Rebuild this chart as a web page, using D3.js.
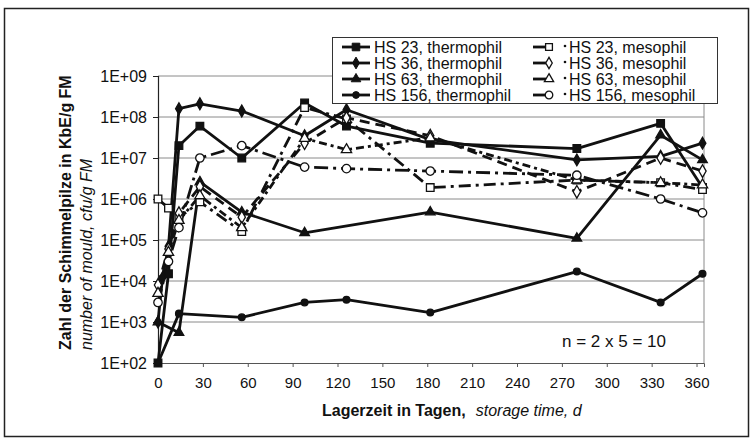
<!DOCTYPE html>
<html><head><meta charset="utf-8">
<script src="https://cdn.jsdelivr.net/npm/d3@7"></script>
<style>body{margin:0;background:#fff}svg{display:block}text{font-family:"Liberation Sans",Arial,sans-serif;fill:#111}</style>
</head><body><svg id="c" width="752" height="439"></svg>
<script>
// ---- data ----
const xTicks = [0,30,60,90,120,150,180,210,240,270,300,330,360];
const yTicks = [1e2,1e3,1e4,1e5,1e6,1e7,1e8,1e9];
const yTickLabels = ["1E+02","1E+03","1E+04","1E+05","1E+06","1E+07","1E+08","1E+09"];

const hs23tDays = [0,7,14,28,56,98,126,182,280,336,364];
const hs23tVals = [1e2,1.5e4,2e7,6e7,1e7,2.2e8,6e7,2.3e7,1.7e7,7e7,1.9e6];
const hs36tDays = [0,3,7,14,28,56,98,126,182,280,336,364];
const hs36tVals = [1e3,1.2e4,7e4,1.6e8,2.1e8,1.4e8,3.5e7,1.5e8,2.8e7,9e6,1.1e7,2.3e7];
const hs63tDays = [0,14,28,56,98,182,280,336,364];
const hs63tVals = [1e3,5.5e2,2.6e6,4.8e5,1.5e5,4.8e5,1.1e5,3.6e7,9e6];
const hs156tDays = [0,14,56,98,126,182,280,336,364];
const hs156tVals = [1e2,1.6e3,1.3e3,3e3,3.5e3,1.7e3,1.7e4,3e3,1.5e4];

const hs23mDays = [0,7,14,28,56,98,126,182,280,336,364];
const hs23mVals = [1e6,6e5,3.5e5,8.5e5,1.6e5,1.7e8,9e7,1.9e6,2.9e6,2.5e6,1.7e6];
const hs36mDays = [0,7,14,28,56,98,126,182,280,336,364];
const hs36mVals = [8e3,6e4,4.5e5,2e6,3.6e5,2.3e7,9.5e7,3.5e7,1.5e6,1e7,4.8e6];
const hs63mDays = [0,7,14,28,56,98,126,182,280,336,364];
const hs63mVals = [5e3,5e4,3e5,1.2e6,2e5,3e7,1.6e7,3.1e7,2.9e6,2.5e6,2.2e6];
const hs156mDays = [0,7,14,28,56,98,126,182,280,336,364];
const hs156mVals = [3e3,3e4,2e5,1e7,2e7,6e6,5.5e6,4.8e6,3.8e6,1e6,4.6e5];

const seriesNames = ["HS 23, thermophil","HS 36, thermophil","HS 63, thermophil","HS 156, thermophil",
                     "HS 23, mesophil","HS 36, mesophil","HS 63, mesophil","HS 156, mesophil"];

const series = [
  {name:seriesNames[0], d:hs23tDays, v:hs23tVals, sym:d3.symbolSquare, size:58, fill:true, dash:null},
  {name:seriesNames[1], d:hs36tDays, v:hs36tVals, sym:d3.symbolDiamond, size:40, fill:true, dash:null},
  {name:seriesNames[2], d:hs63tDays, v:hs63tVals, sym:d3.symbolTriangle, size:40, fill:true, dash:null},
  {name:seriesNames[3], d:hs156tDays, v:hs156tVals, sym:d3.symbolCircle, size:36, fill:true, dash:null},
  {name:seriesNames[4], d:hs23mDays, v:hs23mVals, sym:d3.symbolSquare, size:58, fill:false, dash:"12,5,3,5"},
  {name:seriesNames[5], d:hs36mDays, v:hs36mVals, sym:d3.symbolDiamond, size:46, fill:false, dash:"10,6"},
  {name:seriesNames[6], d:hs63mDays, v:hs63mVals, sym:d3.symbolTriangle, size:46, fill:false, dash:"8,4,3,4"},
  {name:seriesNames[7], d:hs156mDays, v:hs156mVals, sym:d3.symbolCircle, size:56, fill:false, dash:"14,5,3,5"}
];

// ---- layout ----
const svg = d3.select("#c");
const L=158, R=704, T=76, B=363;
const x = d3.scaleLinear().domain([0,365]).range([L,R]);
const y = d3.scaleLog().domain([1e2,1e9]).range([B,T]);

// outer frame
svg.append("rect").attr("x",4.5).attr("y",8.5).attr("width",744).attr("height",428)
  .attr("fill","none").attr("stroke","#222").attr("stroke-width",1.5);

// gridlines
svg.append("g").selectAll("line").data(yTicks.slice(1)).join("line")
  .attr("x1",L).attr("x2",R).attr("y1",d=>y(d)).attr("y2",d=>y(d))
  .attr("stroke","#8a8a8a").attr("stroke-width",1);
// right border
svg.append("line").attr("x1",R).attr("x2",R).attr("y1",T).attr("y2",B).attr("stroke","#8a8a8a");

// axes
const yAxis = d3.axisLeft(y).tickValues(yTicks).tickFormat((d,i)=>yTickLabels[i]).tickSize(5).tickPadding(6);
const gy = svg.append("g").attr("transform",`translate(${L},0)`).call(yAxis);
gy.select(".domain").attr("stroke","#222").attr("stroke-width",1.2);
gy.selectAll(".tick line").attr("stroke","#222");
gy.selectAll("text").attr("font-size",16).attr("fill","#111").style("font-family","Liberation Sans, Arial");

const xAxis = d3.axisBottom(x).tickValues(xTicks).tickSize(4).tickPadding(10);
const gx = svg.append("g").attr("transform",`translate(0,${B})`).call(xAxis);
gx.select(".domain").attr("stroke","#555").attr("stroke-width",1);
gx.selectAll(".tick line").attr("stroke","#555");
gx.selectAll("text").attr("font-size",15).attr("fill","#111").style("font-family","Liberation Sans, Arial");

// axis titles
svg.append("text").attr("transform","translate(71,350) rotate(-90)")
  .attr("font-size",16).attr("font-weight","bold").text("Zahl der Schimmelpilze in KbE/g FM");
svg.append("text").attr("transform","translate(92,350) rotate(-90)")
  .attr("font-size",16).attr("font-style","italic").text("number of mould, cfu/g FM");
const xt = svg.append("text").attr("x",322).attr("y",416).attr("font-size",16);
xt.append("tspan").attr("font-weight","bold").text("Lagerzeit in Tagen,");
xt.append("tspan").attr("dx",10).attr("font-style","italic").text("storage time, d");

svg.append("text").attr("x",562).attr("y",347).attr("font-size",17).text("n = 2 x 5 = 10");

// lines
const line = d3.line().x(p=>x(p[0])).y(p=>y(p[1]));
const g = svg.append("g");
series.forEach(s=>{
  const pts = s.d.map((d,i)=>[d,s.v[i]]);
  g.append("path").attr("d",line(pts)).attr("fill","none").attr("stroke","#111")
    .attr("stroke-width",2.8).attr("stroke-linejoin","round")
    .attr("stroke-dasharray",s.dash);
});
series.forEach(s=>{
  const pts = s.d.map((d,i)=>[d,s.v[i]]);
  g.append("g").selectAll("path").data(pts).join("path")
    .attr("transform",p=>`translate(${x(p[0])},${y(p[1])})`)
    .attr("d",d3.symbol().type(s.sym).size(s.size))
    .attr("fill",s.fill?"#111":"#fff").attr("stroke","#111").attr("stroke-width",1.3);
});

// legend
const lg = svg.append("g");
lg.append("rect").attr("x",332.5).attr("y",37.5).attr("width",385).attr("height",66)
  .attr("fill","#fff").attr("stroke","#333").attr("stroke-width",1);
series.forEach((s,i)=>{
  const col = Math.floor(i/4), row = i%4;
  const yy = 47 + row*16;
  if(col===0){
    lg.append("line").attr("x1",342).attr("x2",370).attr("y1",yy).attr("y2",yy).attr("stroke","#111").attr("stroke-width",2.8);
    lg.append("path").attr("transform",`translate(356,${yy})`).attr("d",d3.symbol().type(s.sym).size(s.size))
      .attr("fill","#111").attr("stroke","#111");
    lg.append("text").attr("x",374).attr("y",yy+5.5).attr("font-size",16).text(s.name);
  } else {
    lg.append("line").attr("x1",533).attr("x2",546).attr("y1",yy).attr("y2",yy).attr("stroke","#111").attr("stroke-width",2.8);
    lg.append("path").attr("transform",`translate(549,${yy})`).attr("d",d3.symbol().type(s.sym).size(s.size*0.8))
      .attr("fill","#fff").attr("stroke","#111").attr("stroke-width",1.3);
    lg.append("circle").attr("cx",565).attr("cy",yy-1).attr("r",1.3).attr("fill","#111");
    lg.append("text").attr("x",569).attr("y",yy+5.5).attr("font-size",16).text(s.name);
  }
});
</script></body></html>
